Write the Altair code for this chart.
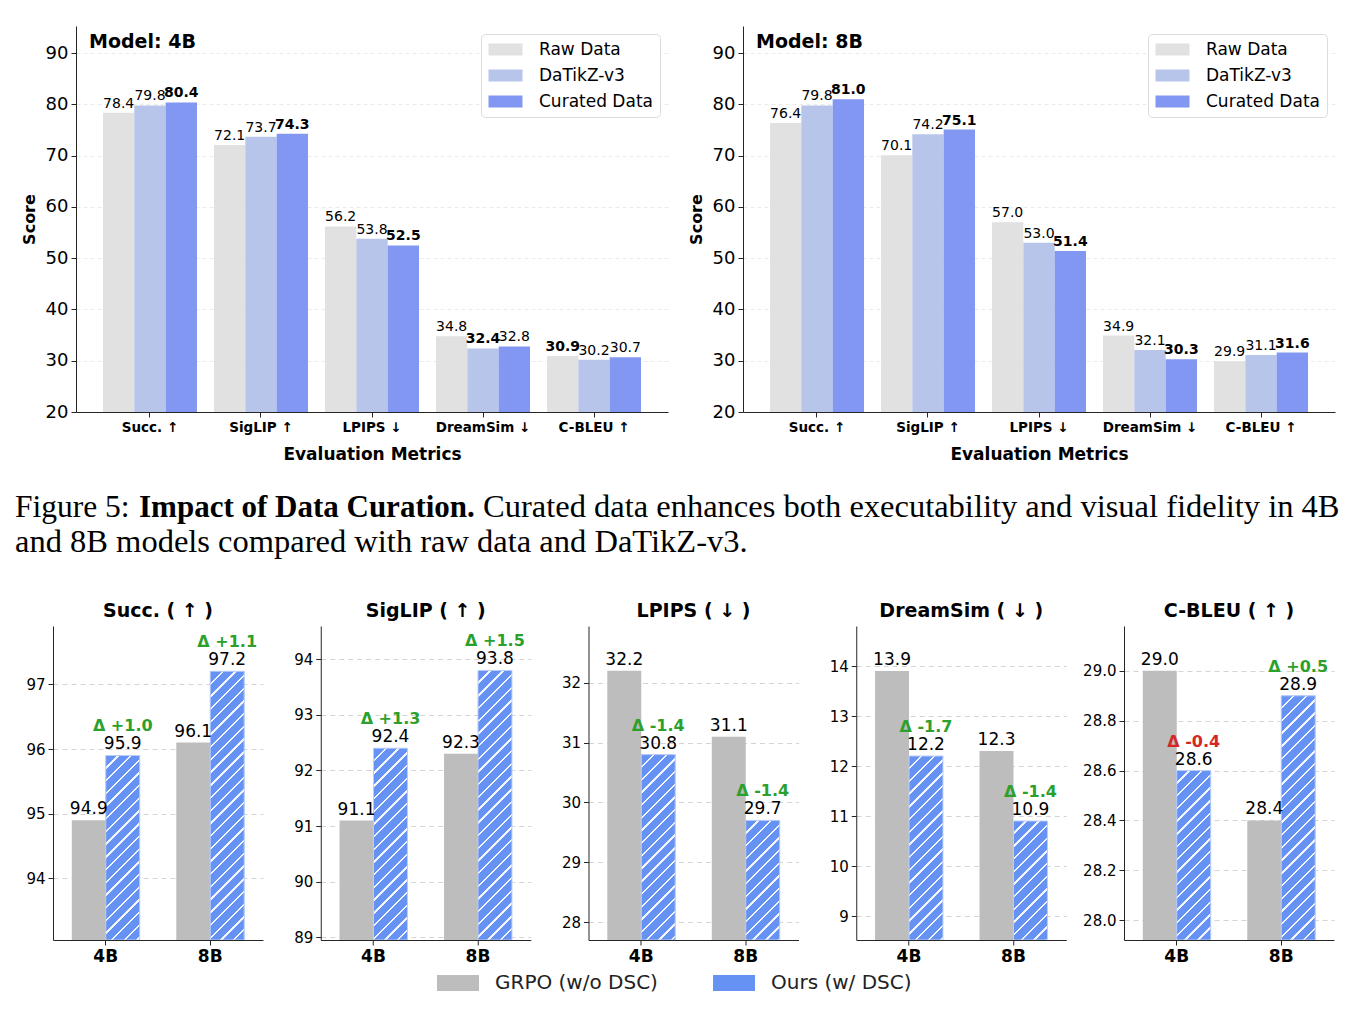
import altair as alt
import pandas as pd

# ---------------- data: Figure 5 (top) ----------------
metrics = ["Succ. ↑", "SigLIP ↑", "LPIPS ↓", "DreamSim ↓", "C-BLEU ↑"]
higher_is_better = [True, True, False, False, True]
top_series = ["Raw Data", "DaTikZ-v3", "Curated Data"]
raw_4b = [78.4, 72.1, 56.2, 34.8, 30.9]
datikz_4b = [79.8, 73.7, 53.8, 32.4, 30.2]
curated_4b = [80.4, 74.3, 52.5, 32.8, 30.7]
raw_8b = [76.4, 70.1, 57.0, 34.9, 29.9]
datikz_8b = [79.8, 74.2, 53.0, 32.1, 31.1]
curated_8b = [81.0, 75.1, 51.4, 30.3, 31.6]
top_ticks = [20, 30, 40, 50, 60, 70, 80, 90]

# ---------------- data: bottom panels ----------------
models = ["4B", "8B"]
panel_titles = ["Succ. ( ↑ )", "SigLIP ( ↑ )", "LPIPS ( ↓ )", "DreamSim ( ↓ )", "C-BLEU ( ↑ )"]
panel_higher = [True, True, False, False, True]
bottom_series = ["GRPO (w/o DSC)", "Ours (w/ DSC)"]
grpo_4b = [94.9, 91.1, 32.2, 13.9, 29.0]
grpo_8b = [96.1, 92.3, 31.1, 12.3, 28.4]
ours_4b = [95.9, 92.4, 30.8, 12.2, 28.6]
ours_8b = [97.2, 93.8, 29.7, 10.9, 28.9]
panel_ticks = [
    [94, 95, 96, 97],
    [89, 90, 91, 92, 93, 94],
    [28, 29, 30, 31, 32],
    [9, 10, 11, 12, 13, 14],
    [28.0, 28.2, 28.4, 28.6, 28.8, 29.0],
]

# ---------------- caption text ----------------
caption_prefix = "Figure 5:"
caption_bold = "Impact of Data Curation."
caption_rest = "Curated data enhances both executability and visual fidelity in 4B"
caption_line2 = "and 8B models compared with raw data and DaTikZ-v3."

# ---------------- styles ----------------
FONT = "DejaVu Sans"
SERIF = "Liberation Serif"
top_colors = ["#e1e1e1", "#b8c5ea", "#8297f1"]
gray = "#bdbdbd"
blue = "#6592f3"
hatch_line = "#f3f6fe"
green = "#2ca02c"
red = "#d62728"
AX = "#262626"

TOP_W, TOP_H = 592, 386
TOP_DOMAIN = [20, 95.3]
BOT_W, BOT_H = 210, 314
BOT_PI, BOT_PO = 0.35, 0.18
panel_domains = [(93.05, 97.9), (88.95, 94.6), (27.7, 32.95), (8.52, 14.8), (27.92, 29.18)]


def top_chart(model, raw, dat, cur):
    rows = []
    for i, m in enumerate(metrics):
        vals = [raw[i], dat[i], cur[i]]
        best = max(vals) if higher_is_better[i] else min(vals)
        for s, v in zip(top_series, vals):
            rows.append({"metric": m, "series": s, "value": v, "best": v == best})
    df = pd.DataFrame(rows)
    x = alt.X(
        "metric:N", sort=metrics, title="Evaluation Metrics",
        scale=alt.Scale(domain=metrics, paddingInner=0.153, paddingOuter=0.243),
        axis=alt.Axis(labelAngle=0, labelFontSize=13.5, labelFontWeight="bold", labelColor="black",
                      tickSize=5, labelPadding=3, titleFontSize=17, titleFontWeight="bold",
                      titlePadding=13, grid=False, domainColor=AX, tickColor=AX),
    )
    xo = alt.XOffset("series:N", sort=top_series,
                     scale=alt.Scale(domain=top_series, paddingInner=0, paddingOuter=0))
    y = alt.Y(
        "value:Q", title="Score",
        scale=alt.Scale(domain=TOP_DOMAIN, nice=False, zero=False),
        axis=alt.Axis(values=top_ticks, labelFontSize=18, labelColor="black", tickSize=5,
                      labelPadding=3, titleFontSize=16, titleFontWeight="bold", titlePadding=8,
                      gridColor="#ebebeb", gridDash=[4, 3], domainColor=AX, tickColor=AX),
    )
    base = alt.Chart(df).encode(x=x, xOffset=xo, y=y)
    bars = base.mark_bar(clip=True).encode(
        y2=alt.datum(TOP_DOMAIN[0]),
        color=alt.Color(
            "series:N", sort=top_series,
            scale=alt.Scale(domain=top_series, range=top_colors),
            legend=alt.Legend(
                orient="top-right", offset=8, title=None, labelFontSize=17, labelColor="black",
                symbolType="M-2.125,-0.75H2.125V0.75H-2.125Z", symbolSize=256,
                symbolStrokeWidth=0, symbolOffset=9, labelOffset=25, rowPadding=8,
                padding=7, strokeColor="#dcdcdc", fillColor="white", cornerRadius=4,
            ),
        ),
    )
    normal = base.transform_filter("!datum.best").mark_text(
        baseline="alphabetic", dy=-5, fontSize=14, color="black"
    ).encode(text=alt.Text("value:Q", format=".1f"))
    bold = base.transform_filter("datum.best").mark_text(
        baseline="alphabetic", dy=-5, fontSize=14, color="black", fontWeight="bold"
    ).encode(text=alt.Text("value:Q", format=".1f"))
    tag = alt.Chart(pd.DataFrame({"t": [f"Model: {model}"]})).mark_text(
        align="left", baseline="middle", fontSize=19, fontWeight="bold", color="black"
    ).encode(x=alt.value(13), y=alt.value(16), text="t:N")
    return alt.layer(bars, normal, bold, tag).properties(width=TOP_W, height=TOP_H)


def hatch_gradient(w, h, period=12.7, lw=2.4):
    """45-degree '/' stripes for a bar of w x h pixels (gradient lives in the bar's bbox)."""
    L = w + h
    stops = [{"offset": 0, "color": blue}]
    k = 1
    while True:
        c = k * period
        a, b = (c - lw / 2) / L, (c + lw / 2) / L
        if a >= 1:
            break
        b = min(b, 1.0)
        stops += [
            {"offset": a, "color": blue},
            {"offset": a, "color": hatch_line},
            {"offset": b, "color": hatch_line},
            {"offset": b, "color": blue},
        ]
        k += 1
    stops.append({"offset": 1, "color": blue})
    gx = (w + h) * w / (w * w + h * h)
    gy = (w + h) * h / (w * w + h * h)
    return alt.LinearGradient(gradient="linear", stops=stops, x1=0, y1=0, x2=gx, y2=gy)


def bottom_panel(idx, show_legend):
    grpo = [grpo_4b[idx], grpo_8b[idx]]
    ours = [ours_4b[idx], ours_8b[idx]]
    rows = []
    for mi, mdl in enumerate(models):
        d = round(ours[mi] - grpo[mi], 1)
        good = (d > 0) == panel_higher[idx]
        rows.append(dict(model=mdl, series=bottom_series[0], value=grpo[mi], delta="", good=good, ours=False))
        rows.append(dict(model=mdl, series=bottom_series[1], value=ours[mi], delta=f"Δ {d:+.1f}", good=good, ours=True))
    df = pd.DataFrame(rows)
    d0, d1 = panel_domains[idx]
    fmt = ".1f" if idx == 4 else ".0f"
    x = alt.X("model:N", sort=models, title=None,
              scale=alt.Scale(domain=models, paddingInner=BOT_PI, paddingOuter=BOT_PO),
              axis=alt.Axis(labelAngle=0, labelFontSize=17, labelFontWeight="bold", labelColor="black",
                            tickSize=5, labelPadding=3, grid=False, domainColor=AX, tickColor=AX))
    xo = alt.XOffset("series:N", sort=bottom_series,
                     scale=alt.Scale(domain=bottom_series, paddingInner=0, paddingOuter=0))
    y = alt.Y("value:Q", title=None, scale=alt.Scale(domain=[d0, d1], nice=False, zero=False),
              axis=alt.Axis(values=panel_ticks[idx], format=fmt, labelFontSize=15, labelColor="black",
                            tickSize=5, labelPadding=3, gridColor="#d4d4d4", gridDash=[5, 4],
                            domainColor=AX, tickColor=AX))
    base = alt.Chart(df).encode(x=x, xOffset=xo, y=y)
    if show_legend:
        leg = alt.Legend(orient="none", legendX=-151.5, legendY=347, direction="horizontal", title=None,
                         labelFontSize=20, labelColor="#222", labelLimit=400,
                         symbolType="M-2.1,-0.8H2.1V0.8H-2.1Z",
                         symbolSize=400, symbolStrokeWidth=0, symbolOffset=11, labelOffset=27,
                         columnPadding=55, padding=0)
    else:
        leg = None
    bars = base.mark_bar(clip=True).encode(
        y2=alt.datum(d0),
        color=alt.Color("series:N", sort=bottom_series,
                        scale=alt.Scale(domain=bottom_series, range=[gray, blue]), legend=leg),
    )
    step = BOT_W / (2 - BOT_PI + 2 * BOT_PO)
    bw = step * (1 - BOT_PI) / 2
    hatches = []
    for mi, mdl in enumerate(models):
        hpx = (ours[mi] - d0) / (d1 - d0) * BOT_H
        hatches.append(
            base.transform_filter(f"datum.ours && datum.model == '{mdl}'").mark_bar(
                clip=True, fill=hatch_gradient(bw, hpx), stroke="#b9cdfb", strokeWidth=1
            ).encode(y2=alt.datum(d0))
        )
    vals = base.mark_text(baseline="alphabetic", dy=-6, fontSize=17, color="black").encode(
        text=alt.Text("value:Q", format=".1f"))
    dgood = base.transform_filter("datum.ours && datum.good").mark_text(
        baseline="alphabetic", dy=-24, fontSize=16, fontWeight="bold", color=green).encode(text="delta:N")
    dbad = base.transform_filter("datum.ours && !datum.good").mark_text(
        baseline="alphabetic", dy=-24, fontSize=16, fontWeight="bold", color=red).encode(text="delta:N")
    return alt.layer(bars, *hatches, vals, dgood, dbad).properties(
        width=BOT_W, height=BOT_H,
        title=alt.TitleParams(panel_titles[idx], fontSize=19, fontWeight="bold", font=FONT,
                              color="black", anchor="middle", offset=5),
    )


spacer = alt.Chart(pd.DataFrame({"a": [0]})).mark_point(opacity=0).encode(
    x=alt.value(0), y=alt.value(0)).properties(width=1, height=1)

top_pair = alt.hconcat(
    top_chart("4B", raw_4b, datikz_4b, curated_4b),
    top_chart("8B", raw_8b, datikz_8b, curated_8b),
    spacing=75, bounds="flush",
).resolve_scale(x="independent", y="independent", color="independent", xOffset="independent")
top_row = alt.hconcat(spacer, top_pair, spacing=22, bounds="flush")

cap_base = alt.Chart(pd.DataFrame({"a": [0]})).properties(width=1280, height=139)
cap1 = cap_base.mark_text(align="left", baseline="alphabetic", font=SERIF, fontSize=31.5, color="black").encode(
    x=alt.value(-38), y=alt.value(54), text=alt.value(caption_prefix))
cap2 = cap_base.mark_text(align="left", baseline="alphabetic", font=SERIF, fontSize=31, fontWeight="bold",
                          color="black").encode(x=alt.value(86), y=alt.value(54), text=alt.value(caption_bold))
cap3 = cap_base.mark_text(align="left", baseline="alphabetic", font=SERIF, fontSize=32.5, color="black").encode(
    x=alt.value(430), y=alt.value(54), text=alt.value(caption_rest))
cap4 = cap_base.mark_text(align="left", baseline="alphabetic", font=SERIF, fontSize=32.5, color="black").encode(
    x=alt.value(-38), y=alt.value(89), text=alt.value(caption_line2))
caption = alt.layer(cap1, cap2, cap3, cap4)

bottom_row = alt.hconcat(
    *[bottom_panel(i, i == 2) for i in range(5)], spacing=57.75, bounds="flush"
).resolve_scale(x="independent", y="independent", color="independent", xOffset="independent")

chart = alt.vconcat(top_row, caption, bottom_row, spacing=0).properties(
    padding={"left": 15, "top": 23, "right": 5, "bottom": 5}
).configure(font=FONT).configure_view(stroke=None)

chart.save("out.html", embed_options={"renderer": "svg", "actions": False})
